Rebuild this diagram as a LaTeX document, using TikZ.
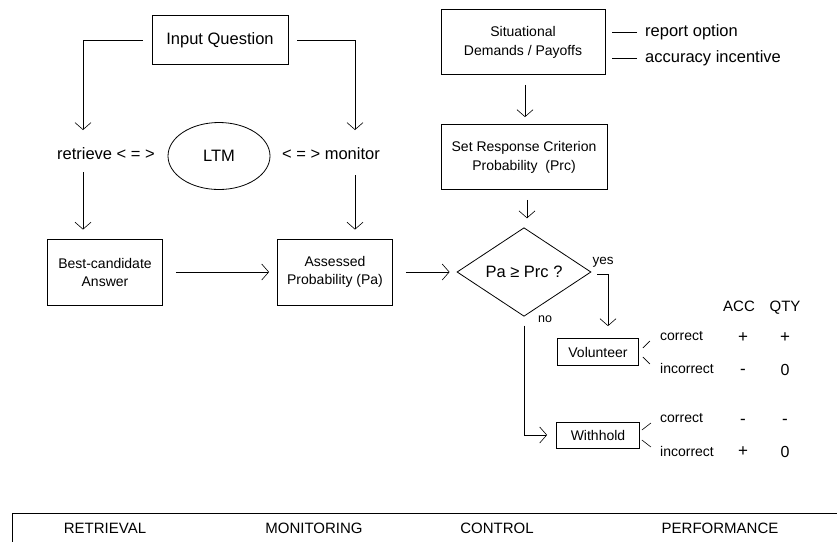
\documentclass[tikz,border=0pt]{standalone}
\usepackage{fontspec}
\setmainfont{Liberation Sans}
\usetikzlibrary{arrows.meta,calc,shapes.geometric}
\tikzset{
  box/.style={draw, line width=0.8pt, rectangle, align=center, inner sep=0pt},
  txt/.style={inner sep=0pt, align=center},
  arr/.style={-{Straight Barb[length=7pt,width=16pt]}, line width=0.6pt},
  tick/.style={line width=0.6pt}
}
\begin{document}
\begin{tikzpicture}[x=1pt,y=-1pt]
			%%%%% START %%%%%
			\useasboundingbox (0,0) rectangle (837,542);
			
			% retrieval and monitoring
			\node[box, minimum width=136pt, minimum height=49pt, font=\fontsize{16.5}{19}\selectfont] (iq) at (220,40) {Input Question};
			\node[txt, font=\fontsize{16.5}{19}\selectfont] (ret) at (106,154) {retrieve < = >};
			\node[draw, ellipse, line width=0.8pt, minimum width=102pt, minimum height=67pt, font=\fontsize{16.5}{19}\selectfont] (ltm) at (219,156) {LTM};
			\node[txt, font=\fontsize{16.5}{19}\selectfont] (mon) at (331,154) {< = > monitor};
			\node[box, minimum width=115pt, minimum height=66pt, font=\fontsize{14}{18}\selectfont] (best) at (105,272) {Best-candidate\\Answer};
			\node[box, minimum width=115pt, minimum height=66pt, font=\fontsize{14}{18}\selectfont] (ass) at (335,272) {Assessed\\Probability (Pa)};
			
			\coordinate (retin) at (83,130);
			\coordinate (monin) at (355,130);
			\draw[arr] ($(iq.west)+(-9,0)$) -| (retin);
			\draw[arr] ($(iq.east)+(9,0)$) -| (monin);
			\draw[arr] ($(ret.south -| retin)+(0,12)$) -- ($(best.north -| retin)+(0,-9)$);
			\draw[arr] ($(mon.south -| monin)+(0,15)$) -- ($(ass.north -| monin)+(0,-9)$);
			\draw[arr] ($(best.east)+(13,0)$) -- ($(ass.west)+(-8,0)$);
			
			% control
			\node[box, minimum width=164pt, minimum height=65pt, font=\fontsize{14}{19}\selectfont] (sit) at (523,42) {Situational\\Demands / Payoffs};
			\node[txt, anchor=west, font=\fontsize{16.5}{19}\selectfont] (rep) at (645,32) {report option};
			\node[txt, anchor=west, font=\fontsize{16.5}{19}\selectfont] (inc) at (645,58) {accuracy incentive};
			\draw[tick] ($(rep.west)+(-8,0)$) -- ++(-25,0);
			\draw[tick] ($(inc.west)+(-8,0)$) -- ++(-25,0);
			\node[box, minimum width=166pt, minimum height=65pt, font=\fontsize{14}{19}\selectfont] (src) at (524,157) {Set Response Criterion\\Probability~~(Prc)};
			\node[draw, diamond, line width=0.8pt, inner sep=0pt, minimum width=134pt, minimum height=66pt, font=\fontsize{16.5}{19}\selectfont] (dec) at (524,272) {Pa ≥ Prc ?};
			
			\draw[arr] ($(sit.south)+(2,10)$) -- ($(src.north)+(1,-7)$);
			\draw[arr] ($(src.south)+(3,10)$) -- ($(dec.north)+(3,-9)$);
			\draw[arr] ($(ass.east)+(13,0)$) -- ($(dec.west)+(-7,0)$);
			
			% performance
			\node[box, minimum width=81pt, minimum height=27pt, font=\fontsize{14}{18}\selectfont] (vol) at (598,352) {Volunteer};
			\node[box, minimum width=83pt, minimum height=26pt, font=\fontsize{14}{18}\selectfont] (wh) at (598,435) {Withhold};
			\node[txt, font=\fontsize{13.5}{16}\selectfont] (yes) at (603,262) {yes};
			\node[txt, font=\fontsize{12.5}{16}\selectfont] (no) at (545,319) {no};
			
			\coordinate (yesturn) at (608,274);
			\draw[arr] ($(dec.east)+(6,2)$) -- (yesturn) -- ($(vol.north -| yesturn)+(0,-12)$);
			\draw[arr] ($(dec.south)+(0,9)$) |- ($(wh.west)+(-9,0)$);
			
			\draw[tick] ($(vol.east)+(4,-4)$) -- ++(7,-7);
			\draw[tick] ($(vol.east)+(4,5)$) -- ++(7,7);
			\draw[tick] ($(wh.east)+(2,-5)$) -- ++(9,-7);
			\draw[tick] ($(wh.east)+(2,5)$) -- ++(9,7);
			
			\node[txt, anchor=base, font=\fontsize{15}{18}\selectfont] (acc) at (739,311) {ACC};
			\node[txt, anchor=base, font=\fontsize{15}{18}\selectfont] (qty) at (785,311) {QTY};
			
			\node[txt, anchor=west, font=\fontsize{14}{16}\selectfont] (vc) at (660,336) {correct};
			\node[txt, anchor=west, font=\fontsize{14}{16}\selectfont] (vi) at (660,368) {incorrect};
			\node[txt, anchor=west, font=\fontsize{14}{16}\selectfont] (wc) at (660,418) {correct};
			\node[txt, anchor=west, font=\fontsize{14}{16}\selectfont] (wi) at (660,451) {incorrect};
			
			\node[txt, font=\fontsize{17}{18}\selectfont] (vca) at (743,338) {+};
			\node[txt, font=\fontsize{17}{18}\selectfont] (vcq) at (785,338) {+};
			\node[txt, font=\fontsize{17}{18}\selectfont] (via) at (743,372) {-};
			\node[txt, font=\fontsize{16}{18}\selectfont] (viq) at (785,370) {0};
			\node[txt, font=\fontsize{17}{18}\selectfont] (wca) at (743,422) {-};
			\node[txt, font=\fontsize{17}{18}\selectfont] (wcq) at (785,422) {-};
			\node[txt, font=\fontsize{17}{18}\selectfont] (wia) at (743,452) {+};
			\node[txt, font=\fontsize{16}{18}\selectfont] (wiq) at (785,452) {0};
			
			% stages
			\coordinate (barR) at (837,513);
			\coordinate (barL) at (12,513);
			\coordinate (barB) at (12,542);
			\draw[line width=0.8pt] (barR) -- (barL) -- (barB);
			\node[txt, font=\fontsize{15}{18}\selectfont] (sret) at (105,528) {RETRIEVAL};
			\node[txt, font=\fontsize{15}{18}\selectfont] (smon) at (314,528) {MONITORING};
			\node[txt, font=\fontsize{15}{18}\selectfont] (scon) at (497,528) {CONTROL};
			\node[txt, font=\fontsize{15}{18}\selectfont] (sper) at (720,528) {PERFORMANCE};
			
			%%%%% END %%%%%
\end{tikzpicture}
\end{document}
